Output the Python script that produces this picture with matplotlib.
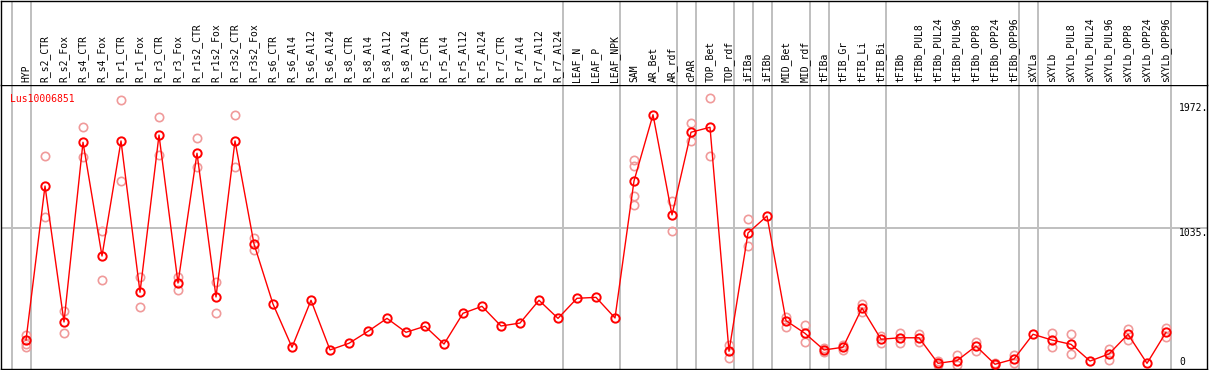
import matplotlib
matplotlib.use("Agg")
import matplotlib.pyplot as plt
import matplotlib.transforms as mtransforms

categories = ["HYP", "R_s2_CTR", "R_s2_Fox", "R_s4_CTR", "R_s4_Fox", "R_r1_CTR", "R_r1_Fox",
              "R_r3_CTR", "R_r3_Fox", "R_r1s2_CTR", "R_r1s2_Fox", "R_r3s2_CTR", "R_r3s2_Fox",
              "R_s6_CTR", "R_s6_Al4", "R_s6_Al12", "R_s6_Al24", "R_s8_CTR", "R_s8_Al4",
              "R_s8_Al12", "R_s8_Al24", "R_r5_CTR", "R_r5_Al4", "R_r5_Al12", "R_r5_Al24",
              "R_r7_CTR", "R_r7_Al4", "R_r7_Al12", "R_r7_Al24", "LEAF_N", "LEAF_P", "LEAF_NPK",
              "SAM", "AR_Bet", "AR_rdf", "cPAR", "TOP_Bet", "TOP_rdf", "iFIBa", "iFIBb",
              "MID_Bet", "MID_rdf", "tFIBa", "tFIB_Gr", "tFIB_Li", "tFIB_Bi", "tFIBb",
              "tFIBb_PUL8", "tFIBb_PUL24", "tFIBb_PUL96", "tFIBb_OPP8", "tFIBb_OPP24",
              "tFIBb_OPP96", "sXYLa", "sXYLb", "sXYLb_PUL8", "sXYLb_PUL24", "sXYLb_PUL96",
              "sXYLb_OPP8", "sXYLb_OPP24", "sXYLb_OPP96"]

means = [200, 1351, 335, 1678, 828, 1688, 557, 1732, 626, 1596, 522, 1688, 918,
         469, 146, 497, 126, 176, 265, 362, 258, 303, 170, 400, 452, 305, 327, 497, 362,
         512, 519, 365, 1389, 1884, 1135, 1753, 1790, 116, 1000, 1127, 345, 250,
         126, 146, 439, 206, 217, 217, 26, 46, 155, 19, 58, 243, 200, 168, 43, 96,
         243, 26, 258]

replicates = [[240, 170, 150], [1576, 1117], [417, 250], [1790, 1566], [1013, 646],
              [1994, 1389], [673, 445], [1869, 1583], [673, 574], [1708, 1491], [632, 402],
              [1880, 1491], [960, 873],
              [], [], [], [], [], [], [], [], [], [], [], [], [], [], [], [],
              [], [], [],
              [1546, 1499, 1274, 1212], [], [1241, 1017], [1820, 1685], [2007, 1573],
              [163, 64], [1102, 903], [], [374, 300], [312, 185],
              [141, 111], [163, 128], [467, 407], [230, 176], [250, 176], [247, 188],
              [40, 10], [88, 13], [183, 120], [25, 12], [88, 26],
              [], [250, 150], [243, 93], [], [135, 51], [283, 200], [], [292, 225]]

separators_after = [-1, 0, 28, 31, 34, 35, 37, 38, 39, 41, 42, 45, 52, 53, 60]
gene_label = "Lus10006851"
axis_ticks = [0, 1035, 1972]
axis_tick_labels = ["0", "1035.", "1972."]

RED = "#ff0000"
PINK = "#f09a9a"
GRAY = "#c0c0c0"
FONT = "DejaVu Sans Mono"

W, H = 1209, 370
fig = plt.figure(figsize=(W / 100, H / 100), dpi=100)

x0 = -1.316
x1 = x0 + 1206 / 19.0

ax = fig.add_axes([1 / W, 1 / H, 1206 / W, 284 / H])
axl = fig.add_axes([1 / W, 285 / H, 1206 / W, 84 / H], sharex=ax)

for a in (ax, axl):
    a.set_xlim(x0, x1)
    a.set_xticks([])
    a.set_yticks([])
    for s in a.spines.values():
        s.set_color("black")
        s.set_linewidth(1.0)
    for i in separators_after:
        a.axvline(i + 0.25, color=GRAY, lw=1.1, antialiased=False, zorder=0)

ax.set_ylim(-16.4, 2106)
axl.set_ylim(0, 1)
axl.spines["bottom"].set_visible(False)

ax.axhline(1035, color=GRAY, lw=1.1, antialiased=False, zorder=0)

xs = list(range(len(categories)))
for i, reps in enumerate(replicates):
    if reps:
        ax.plot([i] * len(reps), reps, linestyle="none", marker="o", ms=6, mew=1.2,
                mfc="none", mec=PINK, zorder=2)
ax.plot(xs, means, color=RED, lw=1.0, zorder=3)
ax.plot(xs, means, linestyle="none", marker="o", ms=6, mew=1.4, mfc="none", mec=RED, zorder=4)

for i, name in enumerate(categories):
    axl.text(i, 0.03, name, rotation=90, ha="center", va="bottom", fontsize=7,
             family=FONT, color="black")

ax.text(0.0075, 0.95, gene_label, transform=ax.transAxes, ha="left", va="center",
        fontsize=7, family=FONT, color=RED)

trans = mtransforms.blended_transform_factory(ax.transAxes, ax.transData)
for v, lab in zip(axis_ticks, axis_tick_labels):
    ax.text(0.9768, v, lab, transform=trans, ha="left",
            va="bottom" if v == 0 else "top", fontsize=7, family=FONT, color="black")

fig.savefig("out.png", dpi=100)
